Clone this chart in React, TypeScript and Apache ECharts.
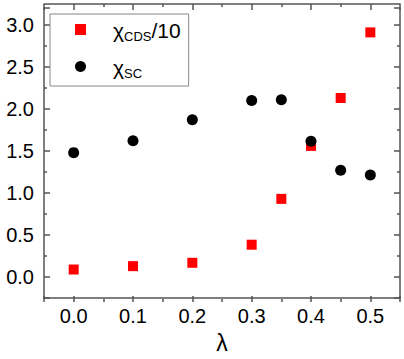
import React, { useEffect, useRef } from "react";
import * as echarts from "echarts";

const lambdaValues = [0.0, 0.1, 0.2, 0.3, 0.35, 0.4, 0.45, 0.5];
const chiCDS10 = [0.09, 0.13, 0.17, 0.385, 0.93, 1.56, 2.13, 2.91];
const chiSC = [1.48, 1.62, 1.87, 2.1, 2.11, 1.615, 1.27, 1.215];
const seriesNames = ["cds", "sc"];

const X_MIN = -0.05;
const X_MAX = 0.55;
const Y_MIN = -0.25;
const Y_MAX = 3.2;

const W = 404;
const H = 359;
const G_LEFT = 44;
const G_TOP = 8;
const G_RIGHT = 4;
const G_BOTTOM = 57;
const PLOT_W = W - G_LEFT - G_RIGHT;
const PLOT_H = H - G_TOP - G_BOTTOM;

const axisColor = "#555";
const font = "'Liberation Sans', Arial, sans-serif";

export default function App() {
  const ref = useRef<HTMLDivElement>(null);
  useEffect(() => {
    if (!ref.current) return;
    const chart = echarts.init(ref.current, null, { renderer: "svg" });
    const mk = (
      pos: string,
      isX: boolean,
      opts: { line: boolean; ticks: boolean; offset?: number; labels?: boolean },
      extra: any = {}
    ) => ({
      type: "value",
      position: pos,
      offset: opts.offset || 0,
      min: isX ? X_MIN : Y_MIN,
      max: isX ? X_MAX : Y_MAX,
      splitNumber: isX ? 6 : 5,
      splitLine: { show: false },
      axisLine: { show: opts.line, onZero: false, lineStyle: { color: axisColor, width: 1.5 } },
      axisTick: { show: opts.ticks, inside: false, length: 6, lineStyle: { color: axisColor, width: 1.5 } },
      minorTick: { show: opts.ticks, splitNumber: 2, length: 3, lineStyle: { color: axisColor, width: 1.5 } },
      axisLabel: opts.labels
        ? {
            show: true,
            inside: false,
            margin: isX ? 8 : 10,
            fontFamily: font,
            fontSize: 20,
            color: "#000",
            showMinLabel: false,
            showMaxLabel: false,
            formatter: (v: number) => v.toFixed(1),
          }
        : { show: false },
      ...extra,
    });
    chart.setOption({
      animation: false,
      backgroundColor: "#fff",
      grid: { left: G_LEFT, top: G_TOP, right: G_RIGHT, bottom: G_BOTTOM, containLabel: false },
      xAxis: [
        mk("bottom", true, { line: true, ticks: false, labels: true }, {
          name: "λ",
          nameLocation: "middle",
          nameGap: 31,
          nameTextStyle: { fontFamily: font, fontSize: 23, color: "#000" },
        }),
        // inward ticks along the bottom edge
        mk("top", true, { line: false, ticks: true, offset: -PLOT_H }),
        // top frame line with inward ticks
        mk("bottom", true, { line: true, ticks: true, offset: -PLOT_H }),
      ],
      yAxis: [
        mk("left", false, { line: true, ticks: false, labels: true }),
        // inward ticks along the left edge
        mk("right", false, { line: false, ticks: true, offset: -PLOT_W }),
        // right frame line with inward ticks
        mk("left", false, { line: true, ticks: true, offset: -PLOT_W }),
      ],
      legend: {
        orient: "vertical",
        left: 50,
        top: 14,
        padding: [6, 8, 6, 25],
        itemGap: 14,
        itemWidth: 11,
        itemHeight: 11,
        borderColor: "#888",
        borderWidth: 1,
        backgroundColor: "#fff",
        data: [
          { name: seriesNames[0], icon: "rect" },
          { name: seriesNames[1], icon: "circle" },
        ],
        formatter: (name: string) =>
          name === "cds" ? "{f|χ}{s|CDS}{m|/10}" : "{f|χ}{s|SC}",
        textStyle: {
          fontFamily: font,
          color: "#000",
          rich: {
            f: { fontFamily: font, fontSize: 21, lineHeight: 19, color: "#000", verticalAlign: "top", padding: [0, 0, 0, 22] },
            m: { fontFamily: font, fontSize: 21, lineHeight: 19, color: "#000", verticalAlign: "top" },
            s: { fontFamily: font, fontSize: 13, lineHeight: 13, color: "#000", verticalAlign: "top", padding: [10, 0, 0, 0] },
          },
        },
      },
      series: [
        {
          name: seriesNames[0],
          type: "scatter",
          xAxisIndex: 0,
          yAxisIndex: 0,
          symbol: "rect",
          symbolSize: 10,
          itemStyle: { color: "#ff0000", opacity: 1 },
          z: 2,
          data: lambdaValues.map((x, i) => [x, chiCDS10[i]]),
        },
        {
          name: seriesNames[1],
          type: "scatter",
          xAxisIndex: 0,
          yAxisIndex: 0,
          symbol: "circle",
          symbolSize: 11,
          itemStyle: { color: "#000", opacity: 1 },
          z: 3,
          data: lambdaValues.map((x, i) => [x, chiSC[i]]),
        },
      ],
    });
    return () => chart.dispose();
  }, []);
  return <div ref={ref} style={{ width: W, height: H, position: "absolute", left: 0, top: 0 }} />;
}
